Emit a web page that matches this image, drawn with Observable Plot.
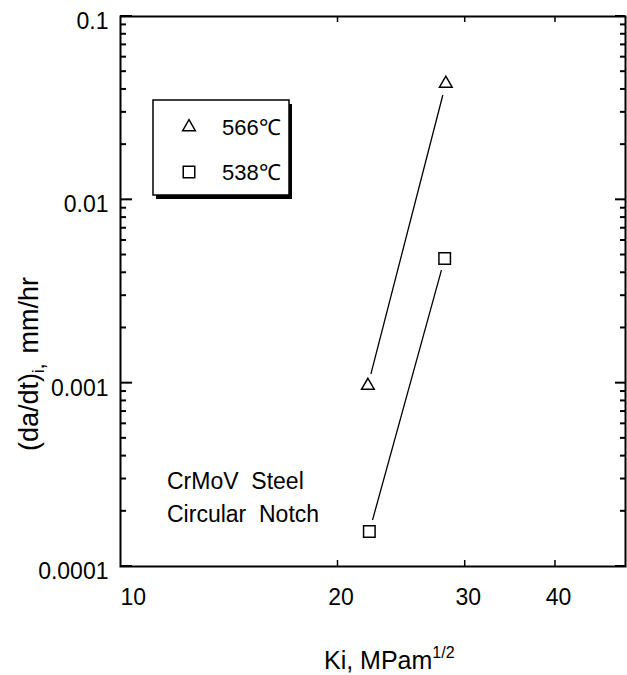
<!DOCTYPE html>
<html><head><meta charset="utf-8">
<script src="https://cdn.jsdelivr.net/npm/d3@7"></script>
<script src="https://cdn.jsdelivr.net/npm/@observablehq/plot@0.6"></script>
<style>body{margin:0;background:#fff} #chart svg{display:block}</style>
</head><body><div id="chart"></div>
<script>
const series = ["566℃", "538℃"];
const ki566 = [22.0, 28.2];
const rate566 = [0.00097, 0.0431];
const ki538 = [22.1, 28.1];
const rate538 = [0.000155, 0.00479];
const xTicks = [10, 20, 30, 40];
const yTicks = [0.0001, 0.001, 0.01, 0.1];
const yTickLabels = ["0.0001", "0.001", "0.01", "0.1"];
const minorMultipliers = [2, 3, 4, 5, 6, 7, 8, 9];
const annotationLines = ["CrMoV  Steel", "Circular  Notch"];

const yMinor = yTicks.slice(0, 3).flatMap(d => minorMultipliers.map(m => +(d * m).toPrecision(3)));
const data = [
  ...ki566.map((k, i) => ({series: series[0], ki: k, rate: rate566[i]})),
  ...ki538.map((k, i) => ({series: series[1], ki: k, rate: rate538[i]}))
];
const FONT = "'Liberation Sans', Arial, Helvetica, sans-serif";
const W = 627, H = 675, ML = 120, MR = 2, MT = 16, MB = 109;
const xDomain = [10, 50], yDomain = [0.0001, 0.1];

const plot = Plot.plot({
  width: W, height: H,
  marginLeft: ML, marginRight: MR, marginTop: MT, marginBottom: MB,
  style: {fontFamily: FONT, fontSize: "23px", color: "#000", background: "#fff"},
  x: {type: "log", domain: xDomain},
  y: {type: "log", domain: yDomain},
  symbol: {domain: series, range: ["triangle", "square"]},
  marks: [
    Plot.axisX(xTicks.slice(1), {anchor: "bottom", tickSize: 0, tickPadding: 22, dx: 3, fontSize: 23, tickFormat: d => String(d), label: null}),
    Plot.axisX(xTicks.slice(0, 1), {anchor: "bottom", tickSize: 0, tickPadding: 22, fontSize: 23, textAnchor: "start", tickFormat: d => String(d), label: null}),
    Plot.axisY(yTicks, {anchor: "left", tickSize: 0, tickPadding: 12, dy: 5, fontSize: 23, tickFormat: d => yTickLabels[yTicks.indexOf(d)], label: null}),
    Plot.frame({stroke: "#000", strokeWidth: 2}),
    Plot.line(data, {x: "ki", y: "rate", z: "series", stroke: "#000", strokeWidth: 1.3}),
    Plot.dot(data, {x: "ki", y: "rate", r: 12, fill: "white", stroke: null}),
    Plot.dot(data, {filter: d => d.series === series[0], x: "ki", y: "rate", symbol: "series", r: 4.7, fill: "white", stroke: "#000", strokeWidth: 1.5}),
    Plot.dot(data, {filter: d => d.series === series[1], x: "ki", y: "rate", symbol: "series", r: 6.5, fill: "white", stroke: "#000", strokeWidth: 1.5})
  ]
});
document.getElementById("chart").appendChild(plot);

const svg = d3.select(plot);
const x0 = ML, x1 = W - MR, y0 = MT, y1 = H - MB;
// position helpers: Plot's scales, with an equivalent d3 log scale as a fallback
const fbx = d3.scaleLog().domain(xDomain).range([x0, x1]);
const fby = d3.scaleLog().domain(yDomain).range([y1, y0]);
let psx = null, psy = null;
try { psx = plot.scale("x"); psy = plot.scale("y"); } catch (e) {}
const fx = v => { const p = psx && psx.apply ? +psx.apply(v) : NaN; return isFinite(p) ? p : fbx(v); };
const fy = v => { const p = psy && psy.apply ? +psy.apply(v) : NaN; return isFinite(p) ? p : fby(v); };

const tg = svg.append("g");
function seg(xa, ya, xb, yb, w) {
  tg.append("path").attr("d", `M${xa},${ya}L${xb},${yb}`)
    .attr("stroke", "#000").attr("stroke-width", w).attr("fill", "none");
}
xTicks.slice(1).forEach(v => {
  const px = fx(v);
  seg(px, y1, px, y1 - 6, 1.5);
  seg(px, y0, px, y0 + 6, 1.5);
});
yTicks.forEach(v => {
  const py = fy(v);
  seg(x0, py, x0 + 12, py, 2);
  seg(x1, py, x1 - 10, py, 2);
});
yMinor.forEach(v => {
  const py = fy(v);
  seg(x0, py, x0 + 6, py, 2);
  seg(x1, py, x1 - 5, py, 2);
});

// Y axis title
const yt = svg.append("text").attr("transform", "translate(38,364) rotate(-90)")
  .attr("text-anchor", "middle").attr("font-family", FONT).attr("font-size", 27).attr("fill", "#000");
yt.append("tspan").text("(da/dt)");
yt.append("tspan").attr("font-size", 16).attr("dy", 6).text("i");
yt.append("tspan").attr("font-size", 22).text(",");
yt.append("tspan").attr("dy", -6).attr("dx", 10).text("mm/hr");
// X axis title
const xt = svg.append("text").attr("x", 324).attr("y", 669).attr("text-anchor", "start")
  .attr("font-family", FONT).attr("font-size", 25).attr("fill", "#000");
xt.append("tspan").text("Ki, MPam");
xt.append("tspan").attr("font-size", 16).attr("dy", -11).text("1/2");

// Legend box
const lg = svg.append("g");
const bx = 153, by = 100, bw = 136, bh = 95;
lg.append("rect").attr("x", bx + 3).attr("y", by + 4).attr("width", bw).attr("height", bh).attr("fill", "#000");
lg.append("rect").attr("x", bx).attr("y", by).attr("width", bw).attr("height", bh).attr("fill", "#fff").attr("stroke", "#000").attr("stroke-width", 1.5);
const legendRows = [{sym: d3.symbolTriangle, r: 4.7, cy: 127, ty: 135}, {sym: d3.symbolSquare, r: 6.5, cy: 172, ty: 180}];
legendRows.forEach((row, i) => {
  lg.append("path").attr("d", d3.symbol(row.sym, row.r * row.r * Math.PI)())
    .attr("transform", `translate(189,${row.cy})`).attr("fill", "#fff").attr("stroke", "#000").attr("stroke-width", 1.5);
  lg.append("text").attr("x", 222).attr("y", row.ty).attr("text-anchor", "start").attr("font-family", FONT).attr("font-size", 22).attr("fill", "#000").text(series[i]);
});
// Annotation
annotationLines.forEach((t, i) => {
  svg.append("text").attr("x", 167).attr("y", 489 + i * 33).attr("text-anchor", "start").attr("font-family", FONT).attr("font-size", 23)
    .attr("fill", "#000").style("white-space", "pre").text(t);
});
</script></body></html>
